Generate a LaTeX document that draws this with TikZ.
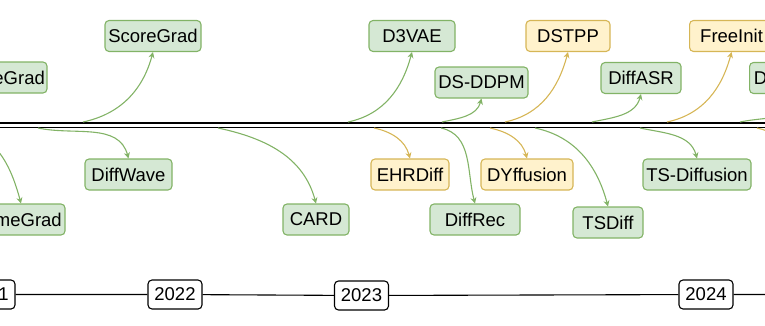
\documentclass[tikz,border=0pt]{standalone}
\usepackage{fontspec}
\setsansfont{Liberation Sans}
\usetikzlibrary{arrows.meta}
\definecolor{grnfill}{HTML}{D5E8D4}
\definecolor{grnline}{HTML}{82B366}
\definecolor{ornfill}{HTML}{FFF2CC}
\definecolor{ornline}{HTML}{D6B656}
\begin{document}
\begin{tikzpicture}[x=1pt, y=-1pt,
    box/.style={draw=grnline, fill=grnfill, rounded corners=4pt, line width=1.1pt,
                minimum height=31pt, inner sep=2pt,
                font=\sffamily\fontsize{18.5}{21}\selectfont},
    obox/.style={box, draw=ornline, fill=ornfill},
    yr/.style={box, draw=black, fill=white, minimum height=29pt, minimum width=54pt},
    arw/.style={-{Stealth[length=6pt, width=6pt]}, line width=1.1pt, grnline},
    oarw/.style={arw, ornline},
    up/.style={out=12, in=-105},
    dn/.style={out=-12, in=105},
]
\useasboundingbox (0,0) rectangle (765,325);
\clip (0,0) rectangle (765,325);

% methods above the rail
\node[box, minimum width=92pt] (wavegrad) at (1,77.5) {WaveGrad};
\node[box, minimum width=96pt] (scoregrad) at (153,36) {ScoreGrad};
\node[box, minimum width=86pt] (d3vae) at (412,36) {D3VAE};
\node[box, minimum width=93pt] (dsddpm) at (481.5,82.5) {DS-DDPM};
\node[obox, minimum width=84pt] (dstpp) at (568,36) {DSTPP};
\node[box, minimum width=80pt] (diffasr) at (641,78) {DiffASR};
\node[obox, minimum width=84pt, anchor=west] (freeinit) at (689,36) {FreeInit};
\node[box, minimum width=110pt, anchor=west] (diffts) at (749,78) {Diffusion-TS};

% methods below the rail
\node[box, minimum width=88pt] (timegrad) at (21,219.5) {TimeGrad};
\node[box, minimum width=87pt] (diffwave) at (128.5,174.5) {DiffWave};
\node[box, minimum width=66pt] (card) at (316,219.5) {CARD};
\node[obox, minimum width=78pt] (ehrdiff) at (410,174.5) {EHRDiff};
\node[box, minimum width=90pt] (diffrec) at (475,219.5) {DiffRec};
\node[obox, minimum width=92pt] (dyffusion) at (527,174.5) {DYffusion};
\node[box, minimum width=70pt] (tsdiff) at (608,222.5) {TSDiff};
\node[box, minimum width=108pt] (tsdiffusion) at (697,174.5) {TS-Diffusion};

% double rail
\draw[double, double distance=3pt, line width=1.5pt] (-10,125.1) -- (775,125.1);

% rail points
\foreach \n/\x in {ua/83, ub/348, uc/442, ud/505, ue/592, uf/667, ug/740}
    \coordinate (\n) at (\x,122);
\foreach \n/\x in {la/-40, lb/38, lc/218, ld/374, le/441, lf/490, lg/535, lh/640, li/757}
    \coordinate (\n) at (\x,128);
\coordinate (offr) at (800,175);

\foreach \a/\b in {ua/scoregrad, ub/d3vae, uc/dsddpm, ue/diffasr, ug/diffts}
    \draw[arw] (\a) to[up] (\b.south);
\foreach \a/\b in {ud/dstpp, uf/freeinit}
    \draw[oarw] (\a) to[up] (\b.south);
\foreach \a/\b in {la/timegrad, lb/diffwave, lc/card, le/diffrec, lg/tsdiff, lh/tsdiffusion}
    \draw[arw] (\a) to[dn] (\b.north);
\foreach \a/\b in {ld/ehrdiff, lf/dyffusion}
    \draw[oarw] (\a) to[dn] (\b.north);
\draw[oarw] (li) to[dn] (offr);

% years
\node[yr] (y21) at (-12,294.5) {2021};
\node[yr] (y22) at (175,294.5) {2022};
\node[yr] (y23) at (361.5,295.5) {2023};
\node[yr] (y24) at (706,294.5) {2024};
\coordinate (yend) at (775,294.5);
\draw[line width=1.1pt] (y21) -- (y22) -- (y23) -- (y24) -- (yend);
\end{tikzpicture}
\end{document}
